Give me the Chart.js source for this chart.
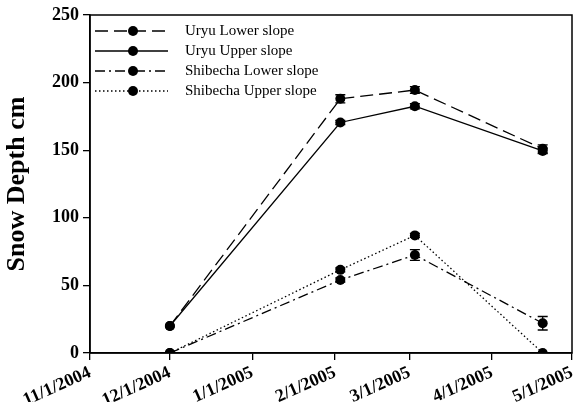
<!DOCTYPE html>
<html>
<head>
<meta charset="utf-8">
<script src="https://cdn.jsdelivr.net/npm/chart.js@4.4.0/dist/chart.umd.min.js"></script>
<style>
  html, body { margin: 0; padding: 0; background: #fff; }
  #wrap { width: 583px; height: 402px; }
</style>
</head>
<body>
<div id="wrap"><canvas id="myChart" width="583" height="402"></canvas></div>
<script>
// sampling dates and x-axis tick dates
const sampleDates = ['12/1/2004', '2/3/2005', '3/3/2005', '4/20/2005'];
const tickLabels = ['11/1/2004', '12/1/2004', '1/1/2005', '2/1/2005', '3/1/2005', '4/1/2005', '5/1/2005'];

// series labels
const seriesNames = ['Uryu Lower slope', 'Uryu Upper slope', 'Shibecha Lower slope', 'Shibecha Upper slope'];

// snow depth (cm) per series
const uryuLower = [20, 188, 194.5, 151];
const uryuUpper = [20, 170.5, 182.5, 149.5];
const shibechaLower = [0, 54, 72.5, 22];
const shibechaUpper = [0, 61.5, 87, 0];

// error bar half-lengths (cm)
const uryuLowerErr = [0, 3, 2.5, 3];
const uryuUpperErr = [0, 1.5, 2, 2];
const shibechaLowerErr = [0, 1.5, 4, 5];
const shibechaUpperErr = [0, 1.5, 1.5, 0];

const yTicks = [0, 50, 100, 150, 200, 250];

// days since the first tick date
function dayOf(s) {
    const [m, d, y] = s.split('/').map(Number);
    const [m0, d0, y0] = tickLabels[0].split('/').map(Number);
    return (Date.UTC(y, m - 1, d) - Date.UTC(y0, m0 - 1, d0)) / 86400000;
}
const tickDays = tickLabels.map(dayOf);
const sampleDays = sampleDates.map(dayOf);

const dashes = [[13, 6], [], [10, 4, 2, 4], [1.5, 2.5]];
const values = [uryuLower, uryuUpper, shibechaLower, shibechaUpper];
const errors = [uryuLowerErr, uryuUpperErr, shibechaLowerErr, shibechaUpperErr];

const datasets = seriesNames.map((name, i) => ({
    label: name,
    data: values[i].map((v, j) => ({ x: sampleDays[j], y: v })),
    err: errors[i],
    borderColor: '#000',
    backgroundColor: '#000',
    borderWidth: 1.3,
    borderDash: dashes[i],
    pointRadius: 5,
    pointBorderWidth: 0,
    pointBackgroundColor: '#000',
    tension: 0,
    fill: false
}));

// error bars, the frame and the legend inside the plot
const extras = {
    id: 'extras',
    afterDatasetsDraw(chart) {
        const ctx = chart.ctx;
        const y = chart.scales.y;
        ctx.save();
        ctx.strokeStyle = '#000';
        ctx.lineWidth = 1.3;
        ctx.setLineDash([]);
        chart.data.datasets.forEach((ds, i) => {
            const meta = chart.getDatasetMeta(i);
            meta.data.forEach((pt, j) => {
                const e = ds.err[j];
                if (!e) return;
                const v = ds.data[j].y;
                const top = y.getPixelForValue(v + e);
                const bot = y.getPixelForValue(v - e);
                ctx.beginPath();
                ctx.moveTo(pt.x, top); ctx.lineTo(pt.x, bot);
                ctx.moveTo(pt.x - 5, top); ctx.lineTo(pt.x + 5, top);
                ctx.moveTo(pt.x - 5, bot); ctx.lineTo(pt.x + 5, bot);
                ctx.stroke();
            });
        });

        // frame around the plot area
        const a = chart.chartArea;
        ctx.lineWidth = 1.5;
        ctx.strokeRect(a.left, a.top, a.right - a.left, a.bottom - a.top);

        // legend
        ctx.font = '15px "Liberation Serif", "Times New Roman", serif';
        ctx.textBaseline = 'middle';
        ctx.fillStyle = '#000';
        chart.data.datasets.forEach((ds, i) => {
            const ly = a.top + 16 + i * 20;
            ctx.lineWidth = 1.3;
            ctx.setLineDash(ds.borderDash);
            ctx.beginPath();
            ctx.moveTo(a.left + 5, ly);
            ctx.lineTo(a.left + 78, ly);
            ctx.stroke();
            ctx.setLineDash([]);
            ctx.beginPath();
            ctx.arc(a.left + 43, ly, 5, 0, Math.PI * 2);
            ctx.fill();
            ctx.fillText(ds.label, a.left + 95, ly);
        });
        ctx.restore();
    }
};

const tickFont = { family: '"Liberation Serif", "Times New Roman", serif', size: 18, weight: 'bold' };

new Chart(document.getElementById('myChart').getContext('2d'), {
    type: 'line',
    data: { datasets },
    options: {
        responsive: false,
        animation: false,
        layout: { padding: { top: 15, right: 11, left: 0, bottom: 0 } },
        plugins: { legend: { display: false }, tooltip: { enabled: false } },
        scales: {
            x: {
                type: 'linear',
                min: tickDays[0],
                max: tickDays[tickDays.length - 1],
                afterBuildTicks: (s) => { s.ticks = tickDays.map(v => ({ value: v })); },
                afterFit: (s) => { s.height = 49; },
                grid: { display: true, drawOnChartArea: false, tickLength: 7, color: '#000', lineWidth: 1.3 },
                border: { display: true, color: '#000', width: 1.5 },
                ticks: {
                    color: '#000',
                    font: tickFont,
                    padding: 2,
                    maxRotation: 24,
                    minRotation: 24,
                    autoSkip: false,
                    callback: (v, i) => tickLabels[i]
                }
            },
            y: {
                min: 0,
                max: 250,
                afterBuildTicks: (s) => { s.ticks = yTicks.map(v => ({ value: v })); },
                afterFit: (s) => { s.width = 90; },
                grid: { display: true, drawOnChartArea: false, tickLength: 7, color: '#000', lineWidth: 1.3 },
                border: { display: true, color: '#000', width: 1.5 },
                ticks: { color: '#000', font: tickFont, padding: 4 },
                title: {
                    display: true,
                    text: 'Snow Depth cm',
                    color: '#000',
                    font: { family: '"Liberation Serif", "Times New Roman", serif', size: 26, weight: 'bold' },
                    padding: { top: 2, bottom: 0 }
                }
            }
        }
    },
    plugins: [extras]
});
</script>
</body>
</html>
